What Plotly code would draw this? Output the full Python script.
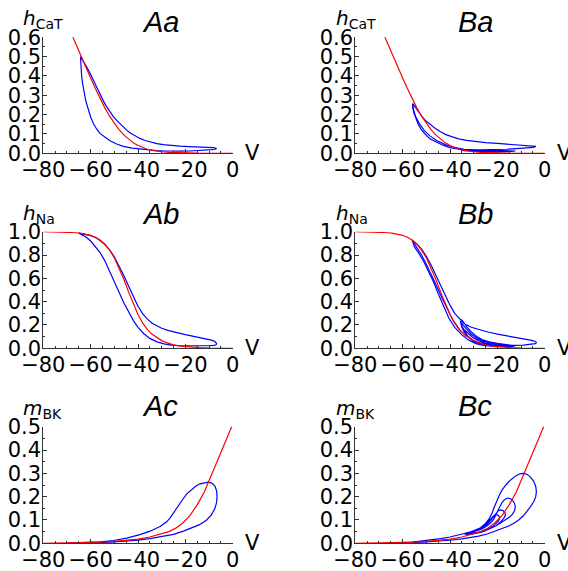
import plotly.graph_objects as go

W, H = 568, 571

# ---------------- data ----------------
# steady-state h_CaT (red), panels Aa / Ba
V_hcat_ss = [-68, -66, -64, -62, -60, -58, -56, -54, -52, -50, -48, -46, -44, -42, -40, -38, -36, -34, -32, -30, -27, -24, -20, -15, -10, -5, 0]
hcat_ss = [0.615, 0.557, 0.50, 0.445, 0.39, 0.335, 0.282, 0.235, 0.192, 0.155, 0.122, 0.095, 0.072, 0.054, 0.04, 0.029, 0.021, 0.015, 0.011, 0.008, 0.005, 0.003, 0.0015, 0.0006, 0.0002, 0.0001, 0.0]

# trajectory Aa
V_Aa = [-64.3, -63.0, -61.7, -60.3, -58.9, -57.5, -56.1, -54.6, -53.2, -51.8, -50.4, -49.0, -47.6, -46.2, -44.8, -43.4, -42.0, -40.6, -39.2, -37.0, -34.9, -32.0, -29.3, -26.0, -22.3, -18.5, -15.2, -12.0, -9.6, -8.0, -6.8,
        -7.5, -9.0, -11.0, -14.0, -18.0, -22.0, -25.1, -28.5, -32.1, -35.5, -39.2, -42.5, -46.2, -49.0, -51.8, -54.0, -56.1, -57.5, -58.9, -60.0, -61.0, -61.8, -62.4, -63.0, -63.4, -63.8, -64.0, -64.2, -64.3]
h_Aa = [0.50, 0.475, 0.447, 0.415, 0.378, 0.34, 0.303, 0.27, 0.24, 0.213, 0.19, 0.17, 0.152, 0.135, 0.12, 0.106, 0.095, 0.085, 0.077, 0.066, 0.058, 0.05, 0.045, 0.04, 0.037, 0.035, 0.033, 0.032, 0.031, 0.029, 0.025,
        0.021, 0.019, 0.017, 0.014, 0.012, 0.011, 0.010, 0.012, 0.014, 0.017, 0.021, 0.027, 0.036, 0.048, 0.065, 0.083, 0.103, 0.126, 0.155, 0.188, 0.224, 0.26, 0.293, 0.33, 0.362, 0.40, 0.431, 0.47, 0.50]

# trajectory Ba (None separates the second return path)
V_Ba = [-55.8, -54.5, -53.2, -51.8, -50.4, -48.5, -46.2, -44.0, -42.0, -39.0, -36.3, -33.0, -29.3, -25.0, -20.0, -15.0, -10.0, -6.8, -4.5, -3.7,
        -5.0, -8.0, -12.0, -16.0, -20.0, -24.0, -28.0, -32.0, -35.0, -36.0,
        -34.0, -30.0, -26.0, -22.0, -18.0, -14.0, -12.4, -14.0, -18.0, -22.0, -26.0, -30.0, -34.0, -35.5,
        -33.0, -29.0, -25.0, -21.0, -17.5, -16.5, -18.0, -22.0, -26.0, -30.0, -34.0,
        -31.0, -27.0, -23.0, -20.0, -19.0, -21.0, -25.0,
        -29.0, -33.0, -37.0, -40.0, -43.0, -46.0, -48.5, -50.5, -52.3, -53.6, -54.6, -55.3, -55.7, -55.8,
        None,
        -34.0, -38.0, -42.0, -45.5, -48.5, -51.0, -53.0, -54.5, -55.4, -55.8]
h_Ba = [0.258, 0.235, 0.212, 0.19, 0.17, 0.15, 0.128, 0.111, 0.098, 0.085, 0.075, 0.067, 0.06, 0.055, 0.051, 0.047, 0.044, 0.042, 0.04, 0.036,
        0.031, 0.027, 0.024, 0.021, 0.019, 0.018, 0.018, 0.019, 0.02, 0.021,
        0.02, 0.018, 0.016, 0.015, 0.014, 0.013, 0.012, 0.01, 0.009, 0.009, 0.01, 0.012, 0.014, 0.016,
        0.015, 0.013, 0.012, 0.011, 0.01, 0.009, 0.008, 0.008, 0.009, 0.011, 0.014,
        0.012, 0.011, 0.01, 0.009, 0.008, 0.007, 0.008,
        0.01, 0.015, 0.022, 0.029, 0.042, 0.058, 0.075, 0.1, 0.125, 0.155, 0.185, 0.21, 0.235, 0.258,
        None,
        0.02, 0.03, 0.045, 0.065, 0.09, 0.12, 0.155, 0.19, 0.225, 0.25]

# steady-state h_Na (red), panels Ab / Bb
V_hna_ss = [-80, -75, -70, -66, -64, -62, -60, -58, -56, -54, -52, -50, -48, -46, -44, -42, -40, -38, -36, -34, -32, -30, -28, -25, -22, -18, -14, -10, -5, 0]
hna_ss = [1.0, 0.999, 0.996, 0.991, 0.986, 0.979, 0.969, 0.953, 0.929, 0.893, 0.842, 0.776, 0.69, 0.592, 0.484, 0.378, 0.29, 0.215, 0.16, 0.12, 0.09, 0.066, 0.048, 0.03, 0.019, 0.01, 0.005, 0.002, 0.001, 0.0005]

# trajectory Ab
V_Ab = [-65, -62, -60, -58, -56, -54, -52, -50, -48, -46, -44, -42, -40, -38, -36, -34, -32, -30, -27, -24, -20, -16, -12, -9, -7.5, -6.8,
        -7.0, -8.0, -10, -14, -18, -22, -26, -29, -32, -35, -37.5, -40, -42, -44, -46, -48, -50, -52, -54, -56, -58, -60, -62, -64, -65]
h_Ab = [0.988, 0.978, 0.966, 0.95, 0.925, 0.89, 0.845, 0.785, 0.71, 0.625, 0.535, 0.445, 0.36, 0.295, 0.25, 0.215, 0.19, 0.172, 0.152, 0.135, 0.117, 0.1, 0.085, 0.07, 0.058, 0.04,
        0.03, 0.025, 0.022, 0.02, 0.02, 0.022, 0.028, 0.038, 0.055, 0.085, 0.125, 0.18, 0.24, 0.31, 0.39, 0.48, 0.575, 0.67, 0.75, 0.82, 0.875, 0.92, 0.955, 0.975, 0.988]

# trajectory Bb
V_Bb = [-56, -54, -52, -50, -48, -46, -44, -42, -40, -38, -36, -34, -31, -28, -24, -20, -16, -12, -8, -5.5, -4, -3.5,
        -4, -6, -9, -13, -17, -21, -25, -28, -30.5, -32.5, -34, -35, -35.5, -35.5,
        -34.5, -33, -31, -29, -26.5, -23.5, -20, -16.5, -13.5, -12.4, -13.5, -16, -19, -22, -25, -28, -30.5, -32.5, -34, -35, -35.3,
        -34.3, -33, -31, -28.5, -25.5, -22, -19, -17, -16.5, -18, -21, -24, -27, -30, -32.5, -34, -34.8,
        -34, -32.5, -30.5, -28, -25, -22, -20, -19, -20.5, -23, -26,
        -29, -32, -35, -38, -40.5, -43, -45, -47, -49, -51, -53, -55, -56,
        None,
        -33, -36, -39, -41.5, -43.8, -46, -48, -50, -52, -54, -56]
h_Bb = [0.928, 0.895, 0.85, 0.79, 0.715, 0.63, 0.54, 0.45, 0.37, 0.3, 0.25, 0.21, 0.18, 0.16, 0.14, 0.122, 0.107, 0.093, 0.08, 0.068, 0.058, 0.05,
        0.04, 0.033, 0.028, 0.025, 0.025, 0.028, 0.036, 0.05, 0.07, 0.1, 0.14, 0.18, 0.22, 0.25,
        0.23, 0.185, 0.14, 0.105, 0.075, 0.055, 0.042, 0.034, 0.028, 0.022, 0.017, 0.015, 0.016, 0.02, 0.028, 0.045, 0.07, 0.105, 0.15, 0.19, 0.22,
        0.2, 0.165, 0.12, 0.085, 0.058, 0.04, 0.03, 0.024, 0.019, 0.015, 0.016, 0.022, 0.035, 0.06, 0.1, 0.14, 0.175,
        0.16, 0.13, 0.095, 0.066, 0.045, 0.031, 0.024, 0.019, 0.015, 0.017, 0.025,
        0.04, 0.07, 0.115, 0.18, 0.26, 0.37, 0.47, 0.57, 0.66, 0.74, 0.81, 0.87, 0.928,
        None,
        0.1, 0.16, 0.25, 0.35, 0.45, 0.55, 0.64, 0.72, 0.8, 0.87, 0.928]

# steady-state m_BK (red), panels Ac / Bc
V_mbk_ss = [-80, -70, -60, -55, -50, -45, -40, -35, -30, -27, -24, -21, -18, -15, -12, -10.3, -9, -6, -3, 0]
mbk_ss = [0.0, 0.001, 0.003, 0.005, 0.008, 0.012, 0.018, 0.027, 0.04, 0.05, 0.065, 0.088, 0.12, 0.165, 0.22, 0.26, 0.295, 0.36, 0.435, 0.51]

# trajectory Ac
V_Ac = [-70, -63, -56, -50, -45, -40, -35, -30, -25, -20.8, -17, -14, -11, -9, -7.5, -6.8, -6.6, -6.8, -7.5, -8.8, -10.3, -12, -13.8, -15.5, -17.5, -19.4, -21, -22.3, -23.8, -25.1, -26.5, -27.9, -30.7, -34.9, -39.2, -44.8, -50.4, -56, -63, -70]
m_Ac = [0.0005, 0.001, 0.003, 0.006, 0.009, 0.014, 0.02, 0.028, 0.038, 0.052, 0.066, 0.08, 0.1, 0.122, 0.15, 0.175, 0.2, 0.225, 0.245, 0.258, 0.262, 0.26, 0.255, 0.246, 0.23, 0.212, 0.19, 0.17, 0.147, 0.127, 0.108, 0.092, 0.072, 0.052, 0.037, 0.022, 0.012, 0.006, 0.002, 0.0005]

# trajectory Bc
V_Bc = [-66, -62, -56, -50, -45, -40, -35, -30, -27.9, -24, -20.8, -17, -15.2, -13, -11, -9, -7.5, -6, -4.6, -3.8, -3.5, -3.8, -4.8, -6.3, -7.8, -9, -10.5, -12.4, -14, -15.2, -16.8, -18, -19.2, -20.1, -20.9, -21.5, -22.2, -23.5, -25, -27, -29, -31, -33, -34,
        -33, -31, -29, -27, -25, -22.5, -20.5, -18.5, -16.6, -14.8, -13.6, -12.7, -12.4, -12.8, -13.6, -14.6, -15.8, -17, -18, -19, -19.8, -20.6, -21.5, -22.8, -24.5, -26.5, -28.5, -30.5, -32.5, -33.5,
        -32.5, -30, -27.5, -25, -22.5, -20.5, -18.8, -17.3, -16.6, -16.8, -17.6, -18.6, -19.6, -20.5, -21.5, -22.8, -24.5, -26.5, -28.5, -30.5, -32.5, -33.5,
        -32.5, -30, -27.5, -25, -23, -21, -19.6, -19, -19.4, -20.3, -21.3, -22.3, -23.5, -25, -27, -29, -31,
        -34, -37, -40, -44, -48, -52, -56, -60, -66]
m_Bc = [0.001, 0.001, 0.003, 0.006, 0.009, 0.013, 0.019, 0.027, 0.031, 0.041, 0.052, 0.066, 0.074, 0.086, 0.1, 0.118, 0.136, 0.157, 0.179, 0.2, 0.221, 0.245, 0.268, 0.287, 0.297, 0.3, 0.298, 0.288, 0.275, 0.264, 0.245, 0.229, 0.205, 0.186, 0.165, 0.15, 0.13, 0.105, 0.085, 0.068, 0.056, 0.048, 0.043, 0.041,
        0.038, 0.039, 0.042, 0.047, 0.054, 0.064, 0.075, 0.088, 0.1, 0.113, 0.125, 0.14, 0.157, 0.172, 0.185, 0.192, 0.194, 0.187, 0.175, 0.158, 0.14, 0.122, 0.104, 0.088, 0.074, 0.062, 0.054, 0.048, 0.044, 0.042,
        0.04, 0.042, 0.047, 0.054, 0.064, 0.075, 0.09, 0.107, 0.12, 0.132, 0.14, 0.143, 0.14, 0.13, 0.115, 0.098, 0.08, 0.066, 0.057, 0.05, 0.045, 0.043,
        0.041, 0.043, 0.048, 0.056, 0.066, 0.08, 0.095, 0.108, 0.118, 0.123, 0.12, 0.11, 0.095, 0.08, 0.066, 0.057, 0.05,
        0.042, 0.034, 0.027, 0.02, 0.014, 0.009, 0.005, 0.003, 0.001]

x_ticks = [-80, -60, -40, -20, 0]
panel_titles = ["Aa", "Ba", "Ab", "Bb", "Ac", "Bc"]
y_names = ["<i>h</i><sub>CaT</sub>", "<i>h</i><sub>Na</sub>", "<i>m</i><sub>BK</sub>"]
y_ranges = [[0, 0.6], [0, 1.0], [0, 0.5]]
y_major = [0.1, 0.2, 0.1]
y_minor = [0.05, 0.1, 0.05]

panels = [
    (V_Aa, h_Aa, V_hcat_ss, hcat_ss),
    (V_Ba, h_Ba, V_hcat_ss, hcat_ss),
    (V_Ab, h_Ab, V_hna_ss, hna_ss),
    (V_Bb, h_Bb, V_hna_ss, hna_ss),
    (V_Ac, m_Ac, V_mbk_ss, mbk_ss),
    (V_Bc, m_Bc, V_mbk_ss, mbk_ss),
]

# ---------------- layout (pixel geometry) ----------------
col_x = [(43.3, 232.7), (355.3, 544.7)]
row_y = [(37.3, 153.3), (231.7, 348.3), (426.7, 543.3)]
title_pos = [(160, 22), (475, 22), (160, 214), (475, 214), (160, 406), (475, 406)]
ylab_x = [21, 334]
ylab_y = [19, 214, 409]

FONT = "DejaVu Sans"
AX = "#333333"

fig = go.Figure()
layout = dict(width=W, height=H, autosize=False,
              margin=dict(l=0, r=0, t=0, b=0, pad=0, autoexpand=False),
              paper_bgcolor="white", plot_bgcolor="white", showlegend=False,
              annotations=[])

for i, (vb, hb, vr, hr) in enumerate(panels):
    r, c = divmod(i, 2)
    n = i + 1
    xa = "x" if n == 1 else f"x{n}"
    ya = "y" if n == 1 else f"y{n}"
    fig.add_trace(go.Scatter(x=vb, y=hb, mode="lines", line=dict(color="#0000ff", width=1.2),
                             connectgaps=False, xaxis=xa, yaxis=ya))
    fig.add_trace(go.Scatter(x=vr, y=hr, mode="lines", line=dict(color="#ff0000", width=1.2),
                             xaxis=xa, yaxis=ya))
    x0, x1 = col_x[c]
    y0, y1 = row_y[r]
    xkey = "xaxis" if n == 1 else f"xaxis{n}"
    ykey = "yaxis" if n == 1 else f"yaxis{n}"
    common = dict(showline=True, linecolor=AX, linewidth=1, ticks="inside", ticklen=4,
                  tickcolor=AX, tickwidth=1, showgrid=False, zeroline=False, automargin=False,
                  tickfont=dict(family=FONT, size=21, color="black"), fixedrange=True)
    layout[xkey] = dict(domain=[x0 / W, x1 / W], anchor=ya, range=[-80, 0],
                        tickvals=x_ticks, ticklabelstandoff=-3,
                        minor=dict(ticks="inside", ticklen=2, dtick=5, tick0=0, tickcolor=AX),
                        **common)
    layout[ykey] = dict(domain=[1 - y1 / H, 1 - y0 / H], anchor=xa, range=y_ranges[r],
                        dtick=y_major[r], tick0=0, tickformat=".1f", ticklabelstandoff=-3,
                        minor=dict(ticks="inside", ticklen=2, dtick=y_minor[r], tick0=0, tickcolor=AX),
                        **common)
    tx, ty = title_pos[i]
    layout["annotations"].append(dict(text=f"<i>{panel_titles[i]}</i>", x=tx / W, y=1 - ty / H,
                                      xref="paper", yref="paper", showarrow=False,
                                      xanchor="center", yanchor="middle",
                                      font=dict(family="Liberation Sans", size=29, color="black")))
    layout["annotations"].append(dict(text=y_names[r], x=ylab_x[c] / W, y=1 - ylab_y[r] / H,
                                      xref="paper", yref="paper", showarrow=False,
                                      xanchor="left", yanchor="middle",
                                      font=dict(family=FONT, size=20, color="black")))
    layout["annotations"].append(dict(text="V", x=(x1 + 10) / W, y=1 - y1 / H,
                                      xref="paper", yref="paper", showarrow=False,
                                      xanchor="left", yanchor="middle",
                                      font=dict(family=FONT, size=21, color="black")))

fig.update_layout(**layout)
fig.write_html("out.html", config={"displayModeBar": False, "staticPlot": True},
               post_script="document.body.style.margin='0px';document.body.style.overflow='hidden';")
